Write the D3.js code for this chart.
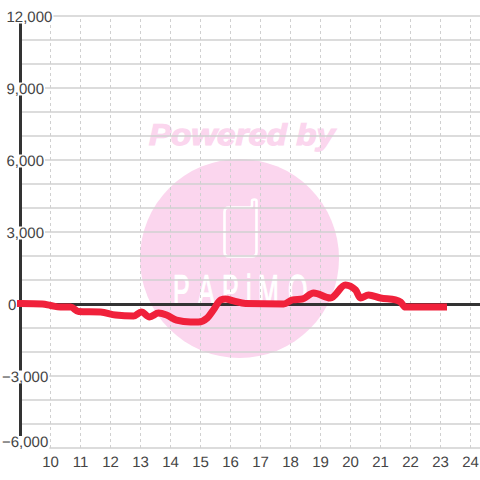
<!DOCTYPE html>
<html><head><meta charset="utf-8">
<script src="https://cdn.jsdelivr.net/npm/d3@7"></script>
<style>html,body{margin:0;padding:0;background:#fff}svg{display:block}text{font-family:"Liberation Sans",Arial,sans-serif;text-rendering:geometricPrecision}</style>
</head><body><svg id="c" width="480" height="480"></svg>
<script>
const hours=[9,9.73,10,10.33,10.67,10.93,11.67,12.17,12.77,13.03,13.3,13.6,13.87,14.2,14.67,14.93,15.23,15.43,15.67,15.83,16.1,16.5,17.77,18.07,18.4,18.77,19.33,19.83,20.17,20.33,20.6,21,21.5,21.67,21.83,23.1];
const values=[20,0,-60,-130,-130,-310,-330,-460,-500,-330,-540,-380,-460,-670,-750,-750,-580,-250,170,210,130,20,0,170,210,460,250,790,580,250,380,250,170,80,-130,-130];
const yTicks=d3.range(-6000,12001,1000);
const yLabels=[-6000,-3000,0,3000,6000,9000,12000];
const xTicks=d3.range(10,25);
const logoText="PAPiMO";
const svg=d3.select("#c");
const x=d3.scaleLinear().domain([9,24.33]).range([20.5,480.4]);
const y=d3.scaleLinear().domain([-6000,12000]).range([448,16]);
const GRID="#d0d0d0",INK="#333",PINK="#fbd6ee",TXT="#444",RED="#f0213b";

// watermark
const wm=svg.append("g");
wm.append("circle").attr("cx",239.5).attr("cy",258.5).attr("r",99.5).attr("fill",PINK);
wm.append("text").attr("x",242).attr("y",145).attr("text-anchor","middle")
  .attr("font-size",30).attr("font-weight","bold").attr("font-style","italic").attr("fill",PINK)
  .attr("stroke",PINK).attr("stroke-width",1.2)
  .attr("font-family","DejaVu Sans").attr("textLength",186).attr("lengthAdjust","spacingAndGlyphs").text("Powered by");
wm.append("path").attr("d","M229,207.5 H250 Q252,207.5 252,205 V201 Q252,199.5 254.5,199.5 Q256.5,199.5 256.5,201 V252 Q256.5,256.5 252,256.5 H229 Q224.5,256.5 224.5,252 V212 Q224.5,207.5 229,207.5 Z")
  .attr("fill","none").attr("stroke","#fff").attr("stroke-width",2.6);
const sx=0.58;
wm.append("text").attr("transform",`translate(0,305) scale(${sx},1)`)
  .attr("x",[173,198,222,246,258,288].map(v=>v/sx).join(" ")).attr("y",0)
  .attr("font-size",43).attr("fill","#fff").attr("stroke","#fff").attr("stroke-width",1.2)
  .attr("font-family","Roboto").attr("font-weight",400).text(logoText);

// grid
const gx=svg.append("g").attr("transform","translate(0,448)").call(d3.axisBottom(x).offset(0).tickValues(xTicks).tickSize(-432).tickPadding(8).tickFormat(d3.format("d")));
gx.select(".domain").remove();
gx.selectAll(".tick line").attr("stroke",GRID).attr("stroke-dasharray","3,3").attr("stroke-width",1);
gx.selectAll(".tick text").attr("font-size",15).attr("fill",TXT).attr("font-family","Liberation Sans");

const gy=svg.append("g").attr("transform","translate(480.4,0)").call(d3.axisLeft(y).offset(0).tickValues(yTicks).tickSize(460).tickFormat(""));
gy.select(".domain").remove();
gy.selectAll(".tick line").attr("stroke",GRID).attr("stroke-width",1.5);

// axis + zero line
svg.append("line").attr("x1",x(9)).attr("x2",x(9)).attr("y1",y(12000)).attr("y2",y(-6000)).attr("stroke",INK).attr("stroke-width",3);
svg.append("line").attr("x1",x(9)).attr("x2",480).attr("y1",y(0)+0.5).attr("y2",y(0)+0.5).attr("stroke",INK).attr("stroke-width",3);

// y labels with white backing
const fmt=d3.format(",");
const lab=svg.append("g").selectAll("g").data(yLabels).join("g");
lab.append("text").attr("class","yl")
  .attr("x",d=>d<0?2:(d===0?8:6.5))
  .attr("y",d=>d===-6000?447:y(d)+5.5)
  .attr("font-size",15).attr("fill",TXT).text(d=>fmt(d));
lab.each(function(){
  const t=d3.select(this).select("text"),b=t.node().getBBox();
  d3.select(this).insert("rect","text").attr("x",b.x).attr("y",b.y+2).attr("width",b.width+1).attr("height",b.height-4).attr("fill","#fff");
});

// series
const line=d3.line().x((d,i)=>x(hours[i])).y(d=>y(d)).curve(d3.curveMonotoneX);
svg.append("path").datum(values).attr("d",line).attr("fill","none").attr("stroke",RED)
  .attr("stroke-width",7).attr("stroke-linejoin","round").attr("stroke-linecap","square");
</script></body></html>
